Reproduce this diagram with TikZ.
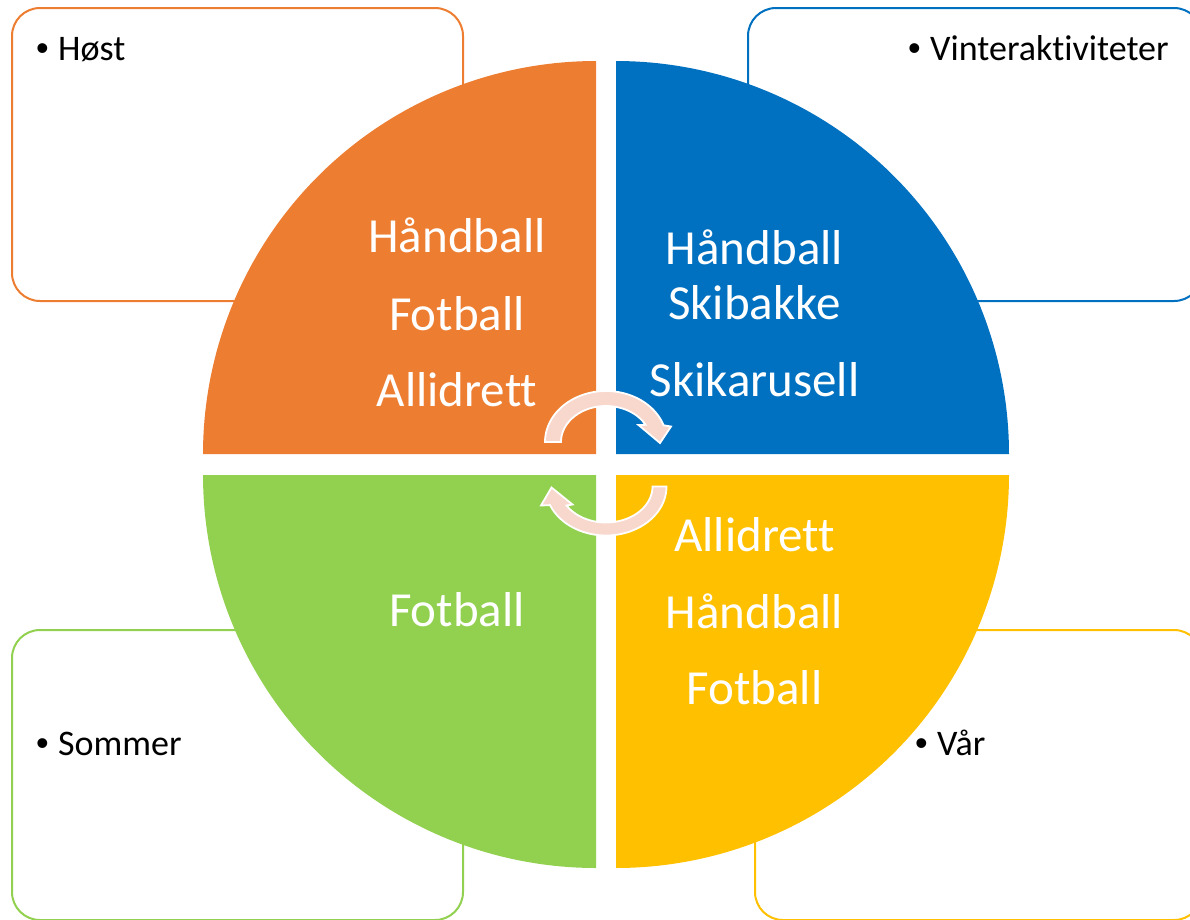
\documentclass[tikz,border=0pt]{standalone}
\usepackage{fontspec}
\setmainfont{Carlito}[Ligatures={NoCommon,NoContextual}, RawFeature=-calt]
\newfontfamily\bulletfont{Liberation Sans}
\definecolor{corange}{HTML}{ED7D31}
\definecolor{cblue}{HTML}{0070C0}
\definecolor{cgreen}{HTML}{92D050}
\definecolor{cyellow}{HTML}{FFC000}
\definecolor{arrowfill}{HTML}{F8D7CC}
\newcommand{\bul}{\makebox[22pt][l]{\bulletfont •}}
\begin{document}
\begin{tikzpicture}[x=1pt,y=-1pt,
  box/.style={line width=2pt, rounded corners=28pt},
  big/.style={text=white, font=\fontsize{49}{58}\selectfont, anchor=base, inner sep=0pt},
  lbl/.style={text=black, font=\fontsize{36}{43}\selectfont, anchor=base west, inner sep=0pt},
  cyc/.style={fill=arrowfill, draw=white, line width=1.8pt, line join=miter}]
\useasboundingbox (0,0) rectangle (1190,919);
\clip (0,0) rectangle (1190,919);
% side boxes
\draw[box, draw=corange] (12,8) rectangle (463,301);
\draw[box, draw=cblue] (748,8) rectangle (1202,301);
\draw[box, draw=cgreen] (12,630) rectangle (463,920);
\draw[box, draw=cyellow] (755,630) rectangle (1202,920);
% quadrants
\fill[corange] (596,454) -- plot[domain=180:270, samples=90] ({596+393*cos(\x)},{454+393*sin(\x)}) -- cycle;
\fill[cblue] (616,454) -- plot[domain=270:360, samples=90] ({616+393*cos(\x)},{454+393*sin(\x)}) -- cycle;
\fill[cgreen] (596,475) -- plot[domain=90:180, samples=90] ({596+393*cos(\x)},{475+393*sin(\x)}) -- cycle;
\fill[cyellow] (616,475) -- plot[domain=0:90, samples=90] ({616+393*cos(\x)},{475+393*sin(\x)}) -- cycle;
% circular arrows
\draw[cyc] plot[domain=180:340.9, samples=60] ({606+61*cos(\x)},{442+51*sin(\x)})
  -- (671,426.5) -- (660,443) -- (638.5,425)
  -- plot[domain=331.5:180, samples=60] ({606+45*cos(\x)},{442+36*sin(\x)}) -- cycle;
\draw[cyc] plot[domain=0:157.7, samples=60] ({606+60.5*cos(\x)},{486.5+49*sin(\x)})
  -- (541,505.5) -- (551.5,487.5) -- (572.5,504.5)
  -- plot[domain=148.1:0, samples=60] ({606+46.5*cos(\x)},{486.5+36*sin(\x)}) -- cycle;
% quadrant texts
\node[big] (o1) at (457,252.7) {Håndball};
\node[big] (o2) at (457,330) {Fotball};
\node[big] (o3) at (457,406.7) {Allidrett};
\node[big] (b1) at (754.5,264) {Håndball};
\node[big] (b2) at (754.5,319.3) {Skibakke};
\node[big] (b3) at (754.5,396.7) {Skikarusell};
\node[big] (y1) at (754.5,551.7) {Allidrett};
\node[big] (y2) at (754.5,628.3) {Håndball};
\node[big] (y3) at (754.5,704) {Fotball};
\node[big] (g1) at (457,626.7) {Fotball};
% box labels
\node[lbl] (host) at (36,60) {\bul Høst};
\node[lbl] (vinter) at (908,60) {\bul Vinteraktiviteter};
\node[lbl] (sommer) at (36,755) {\bul Sommer};
\node[lbl] (var) at (915,755) {\bul Vår};
\end{tikzpicture}
\end{document}
